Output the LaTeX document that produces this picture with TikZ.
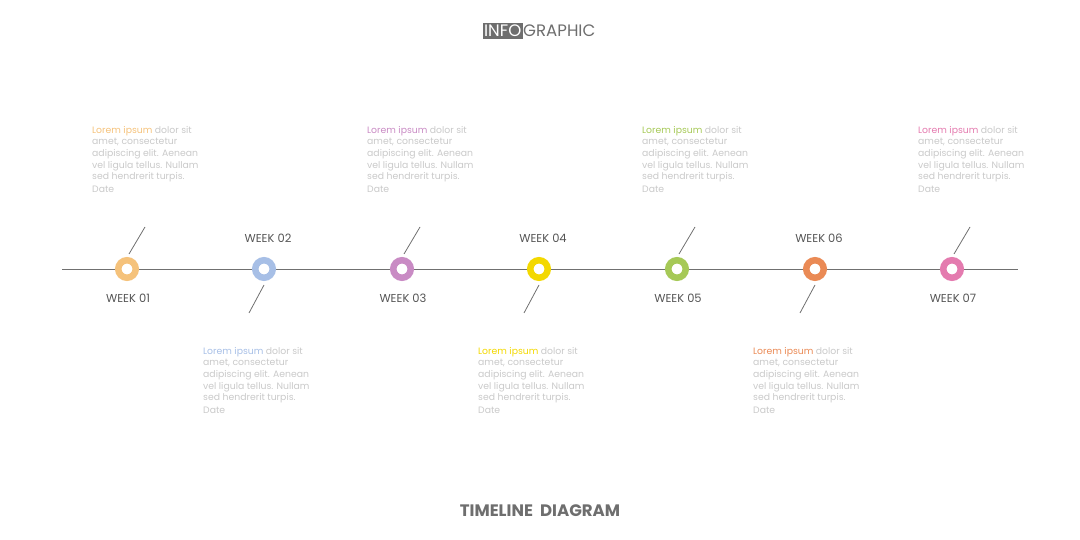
\documentclass[tikz,border=0pt]{standalone}
\usepackage{fontspec}
\setmainfont{Poppins}
\definecolor{cA}{HTML}{F5C27B}
\definecolor{cB}{HTML}{A7BFE6}
\definecolor{cC}{HTML}{C98BC4}
\definecolor{cD}{HTML}{F3D800}
\definecolor{cE}{HTML}{A6C957}
\definecolor{cF}{HTML}{EA8A55}
\definecolor{cG}{HTML}{E47BAF}
\definecolor{txtgray}{HTML}{C9C9C9}
\definecolor{lblgray}{HTML}{555555}
\definecolor{linegray}{HTML}{707070}
\definecolor{titlegray}{HTML}{6E6E6E}
\tikzset{
  ring/.style={circle, draw=#1, line width=6.5pt, minimum size=17.5pt, inner sep=0, fill=white},
  week/.style={font=\fontsize{11.5}{13}\selectfont, text=lblgray, inner sep=0},
  desc/.style={anchor=north west, inner sep=0, align=left, font=\fontsize{9.3}{11.6}\selectfont, text=txtgray},
  tick/.style={draw=linegray, line width=0.8pt},
  axis/.style={draw=linegray, line width=0.7pt}
}
\begin{document}
\begin{tikzpicture}[x=1pt,y=-1pt]
\useasboundingbox (0,0) rectangle (1080,540);
% title
\node[fill=titlegray, text=white, font=\fontsize{16.6}{18}\selectfont, inner xsep=1.5pt, inner ysep=1.8pt, anchor=east] (info) at (523,31) {INFO};
\node[text=titlegray, font=\fontsize{16.6}{18}\selectfont, inner sep=0, anchor=west] (graphic) at (info.east) {GRAPHIC};
\node[text=titlegray, font=\bfseries\fontsize{16.6}{18}\selectfont, inner sep=0] (bottom) at (540,511) {TIMELINE\ \ DIAGRAM};
% axis
\coordinate (L) at (62,269);
\coordinate (R) at (1018,269);
\draw[axis] (L) -- (R);
% rings
\foreach \i/\x/\c in {1/127/cA,2/264/cB,3/402/cC,4/539/cD,5/677/cE,6/815/cF,7/952/cG}{
  \node[ring=\c] (n\i) at (\x,269) {};
}
% ticks above for odd, below for even
\foreach \i/\x in {1/127,3/402,5/677,7/952}{
  \coordinate (ta\i) at (\x+2,254);
  \coordinate (tb\i) at (\x+18,227);
  \draw[tick] (ta\i) -- (tb\i);
  \node[week] (w\i) at (\x+1,298) {WEEK 0\i};
}
\foreach \i/\x in {2/264,4/539,6/815}{
  \coordinate (ta\i) at (\x,285);
  \coordinate (tb\i) at (\x-15,313);
  \draw[tick] (ta\i) -- (tb\i);
  \node[week] (w\i) at (\x+4,238) {WEEK 0\i};
}
% descriptions
\foreach \i/\x/\y/\c in {1/92/126/cA,3/367/126/cC,5/642/126/cE,7/918/126/cG,2/203/347/cB,4/478/347/cD,6/753/347/cF}{
  \node[desc] (d\i) at (\x,\y) {\textcolor{\c}{Lorem ipsum} dolor sit\\amet, consectetur\\adipiscing elit. Aenean\\vel ligula tellus. Nullam\\sed hendrerit turpis.\\[1.5pt]Date};
}
\end{tikzpicture}
\end{document}
